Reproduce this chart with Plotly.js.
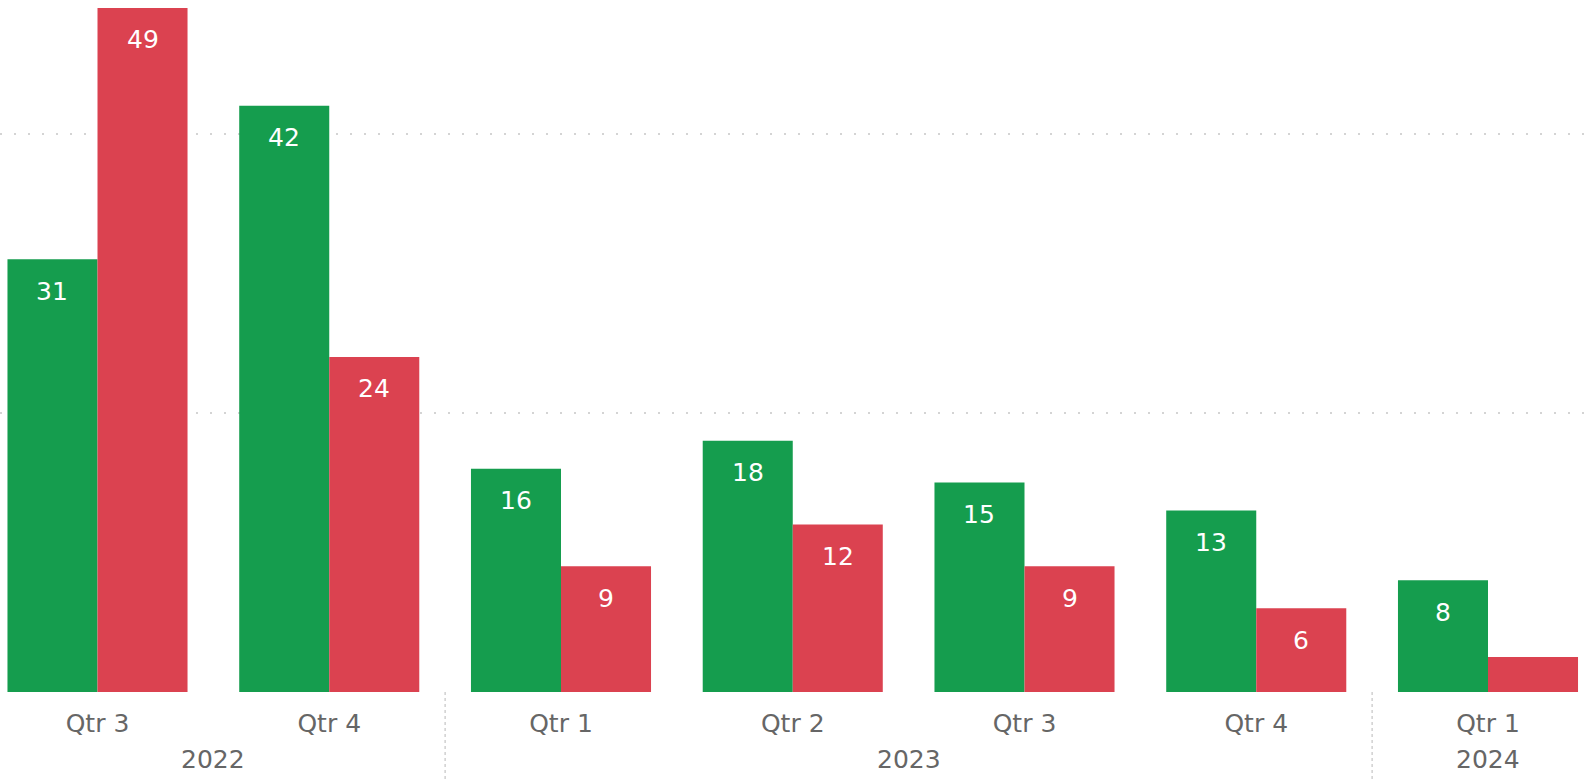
<!DOCTYPE html>
<html>
<head>
<meta charset="utf-8">
<script src="https://cdn.plot.ly/plotly-3.0.1.min.js"></script>
<style>html,body{margin:0;padding:0;background:#fff;}#chart{width:1588px;height:779px;}</style>
</head>
<body>
<div id="chart"></div>
<script>
const years = ['2022', '2022', '2023', '2023', '2023', '2023', '2024'];
const quarters = ['Qtr 3', 'Qtr 4', 'Qtr 1', 'Qtr 2', 'Qtr 3', 'Qtr 4', 'Qtr 1'];
const greenValues = [31, 42, 16, 18, 15, 13, 8];
const redValues = [49, 24, 9, 12, 9, 6, 2.5];
const gridValues = [20, 40];

const categories = quarters.map((q, i) => q + ' ' + years[i]);

const GREEN = '#159D4E';
const RED = '#DB4250';
const FONT = 'DejaVu Sans, Arial, sans-serif';
const W = 1588, H = 779, MB = 87;
const BARGAP = 0.223;
const catPx = 231.75;
const barHalf = catPx * (1 - BARGAP) / 4;

const traces = [
  {type: 'bar', name: 'Green', x: categories, y: greenValues, marker: {color: GREEN}, hoverinfo: 'x+y'},
  {type: 'bar', name: 'Red', x: categories, y: redValues, marker: {color: RED}, hoverinfo: 'x+y'}
];

const annotations = [];
function addLabels(vals, dir) {
  vals.forEach((v, i) => {
    if (v < 5) return;
    annotations.push({
      x: i, y: v, xref: 'x', yref: 'y', text: String(Math.round(v)), showarrow: false,
      xanchor: 'center', yanchor: 'middle', xshift: dir * barHalf, yshift: -32,
      font: {family: FONT, size: 25, color: '#ffffff'}
    });
  });
}
addLabels(greenValues, -1);
addLabels(redValues, 1);

// year labels and separators
const shapes = [];
const uniqYears = [...new Set(years)];
uniqYears.forEach(yr => {
  const idx = years.map((y, i) => y === yr ? i : -1).filter(i => i >= 0);
  const mid = (idx[0] + idx[idx.length - 1]) / 2;
  annotations.push({
    x: mid, y: -(759 - 692) / 692, xref: 'x', yref: 'paper', text: yr, showarrow: false,
    xanchor: 'center', yanchor: 'middle', font: {family: FONT, size: 25, color: '#666666'}
  });
});
for (let i = 1; i < years.length; i++) {
  if (years[i] !== years[i - 1]) {
    shapes.push({type: 'line', xref: 'x', yref: 'paper', x0: i - 0.5, x1: i - 0.5, y0: 0, y1: -MB / (H - MB),
      line: {color: '#d0d0d0', width: 1.5, dash: 'dot'}});
  }
}

const layout = {
  width: W, height: H,
  margin: {l: 0, r: 0, t: 0, b: MB, pad: 0},
  paper_bgcolor: '#ffffff', plot_bgcolor: '#ffffff',
  barmode: 'group', bargap: BARGAP, bargroupgap: 0,
  showlegend: false,
  font: {family: FONT, size: 25, color: '#666666'},
  xaxis: {
    type: 'category',
    tickvals: categories, ticktext: quarters,
    range: [-97.5 / catPx, -97.5 / catPx + W / catPx],
    showgrid: false, zeroline: false, showline: false, ticks: '',
    tickfont: {family: FONT, size: 25, color: '#666666'},
    ticklabelstandoff: 14
  },
  yaxis: {
    range: [0, 692 / 13.96],
    tickvals: gridValues, showticklabels: false,
    showgrid: true, gridcolor: '#d4d4d4', gridwidth: 2, griddash: '2px,12px',
    zeroline: false, showline: false, ticks: ''
  },
  annotations: annotations,
  shapes: shapes
};

Plotly.newPlot('chart', traces, layout, {displayModeBar: false, staticPlot: true});
</script>
</body>
</html>
